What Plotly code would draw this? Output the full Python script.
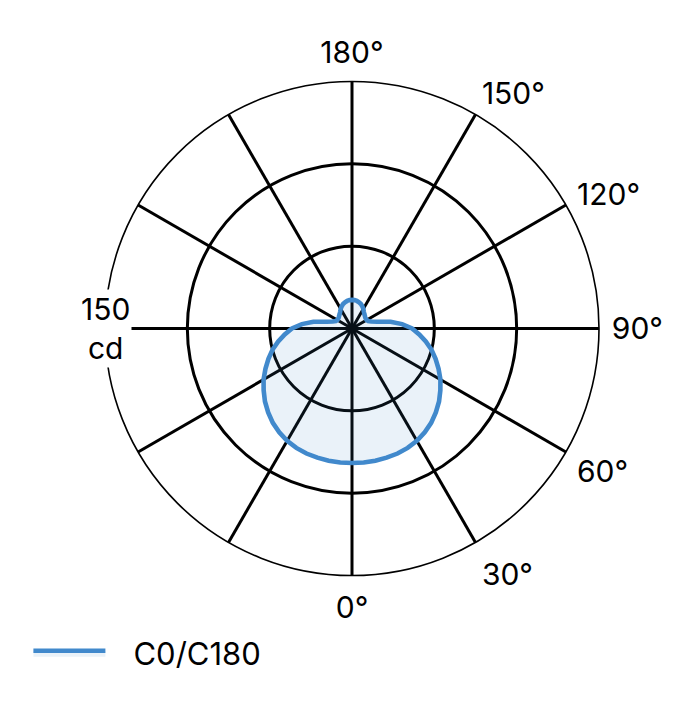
import plotly.graph_objects as go

# angles (deg, C0 half-plane) and luminous intensity (cd)
angles_half = [0, 5, 10, 15, 20, 25, 30, 35, 40, 45, 50, 55, 60, 65, 70, 75, 80, 85, 90,
               95, 100, 105, 110, 115, 120, 125, 130, 135, 140, 145, 150, 155, 160, 165,
               170, 175, 180]
intensity_half = [81.7, 81.7, 81.5, 81.2, 80.8, 80, 78.8, 77, 74.8, 72, 69, 65.5, 62, 58,
                  54, 50, 45.5, 41, 36.5, 30.5, 23.8, 15.9, 12.5, 10.8, 10.3, 10.3, 10.5,
                  11, 11.6, 12.5, 13.8, 14.8, 15.8, 16.5, 17, 17.3, 17.4]

tick_vals = [0, 30, 60, 90, 120, 150, 180, 210, 240, 270, 300, 330]
tick_text = ["0°", "30°", "60°", "90°", "120°", "150°", "180°", "", "", "", "", ""]
ring_vals = [50, 100]
r_max = 150

# C0/C180 is symmetric: mirror the half curve onto the other side
theta = angles_half + [360 - a for a in reversed(angles_half[:-1])]
r = intensity_half + list(reversed(intensity_half[:-1]))

FONT = "Inter"

fig = go.Figure()
fig.add_trace(go.Scatterpolar(
    r=r,
    theta=theta,
    mode="lines",
    name="\u00a0\u00a0\u2009C0/C180",
    line=dict(color="#4189cc", width=4.6),
    fill="toself",
    fillcolor="rgba(65,137,204,0.11)",
))

fig.update_layout(
    width=680,
    height=720,
    paper_bgcolor="white",
    margin=dict(l=97, r=89, t=73, b=152),
    font=dict(family=FONT, size=30, color="black"),
    polar=dict(
        bgcolor="white",
        radialaxis=dict(
            range=[0, r_max],
            tickvals=ring_vals,
            showticklabels=False,
            ticks="",
            showline=False,
            gridcolor="black",
            gridwidth=2.5,
        ),
        angularaxis=dict(
            direction="counterclockwise",
            rotation=270,
            tickvals=tick_vals,
            ticktext=tick_text,
            ticks="outside",
            ticklen=6,
            tickcolor="rgba(0,0,0,0)",
            gridcolor="black",
            gridwidth=2.5,
            linecolor="black",
            linewidth=1.6,
            tickfont=dict(family=FONT, size=30),
        ),
    ),
    legend=dict(
        orientation="h",
        xref="container",
        yref="container",
        x=0.03,
        y=0.104,
        xanchor="left",
        yanchor="middle",
        font=dict(family=FONT, size=31),
        itemwidth=72,
    ),
    showlegend=True,
    annotations=[dict(
        text="150<br>cd",
        xref="paper",
        yref="paper",
        x=0.0,
        y=0.5,
        xanchor="center",
        yanchor="middle",
        showarrow=False,
        bgcolor="white",
        font=dict(family=FONT, size=30),
        align="center",
    )],
)

fig.write_html("out.html")
